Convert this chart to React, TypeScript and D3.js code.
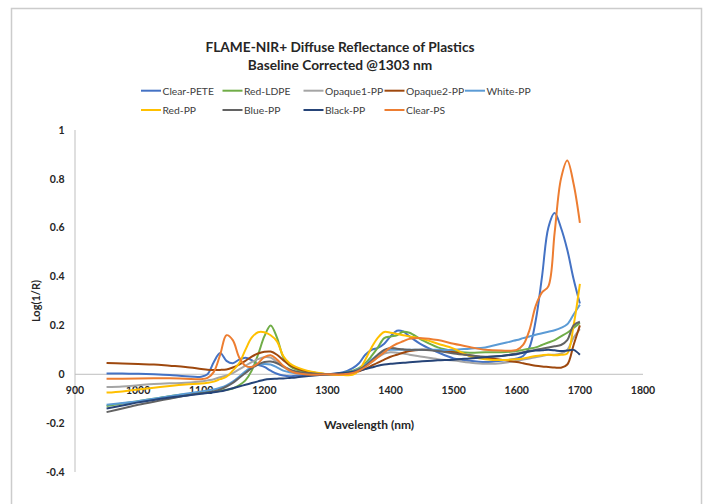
import React from "react";
import * as d3 from "d3";

const wavelengths = [950, 975, 1000, 1025, 1050, 1075, 1100, 1110, 1120, 1130, 1140, 1150, 1160, 1170, 1180, 1190, 1200, 1210, 1220, 1230, 1240, 1250, 1275, 1300, 1325, 1340, 1350, 1360, 1370, 1380, 1390, 1400, 1410, 1420, 1430, 1450, 1475, 1500, 1525, 1550, 1575, 1600, 1610, 1620, 1630, 1640, 1650, 1660, 1670, 1680, 1690, 1700];

const clearPETE = [0.003, 0.003, 0.002, 0.0, -0.003, -0.008, -0.01, 0.0, 0.05, 0.087, 0.055, 0.045, 0.06, 0.068, 0.058, 0.04, 0.03, 0.015, 0.002, -0.005, -0.008, -0.006, -0.002, 0, 0.008, 0.025, 0.045, 0.08, 0.1, 0.108, 0.125, 0.155, 0.178, 0.175, 0.155, 0.12, 0.09, 0.065, 0.055, 0.05, 0.055, 0.065, 0.075, 0.11, 0.22, 0.4, 0.6, 0.66, 0.6, 0.51, 0.39, 0.29];
const redLDPE = [-0.13, -0.12, -0.11, -0.1, -0.09, -0.082, -0.075, -0.072, -0.07, -0.067, -0.063, -0.058, -0.045, -0.025, 0.015, 0.08, 0.155, 0.2, 0.15, 0.07, 0.035, 0.02, 0.007, 0, 0.005, 0.015, 0.025, 0.045, 0.075, 0.11, 0.148, 0.155, 0.16, 0.174, 0.17, 0.14, 0.11, 0.095, 0.088, 0.09, 0.09, 0.095, 0.1, 0.105, 0.11, 0.12, 0.13, 0.14, 0.155, 0.17, 0.19, 0.21];
const opaque1PP = [-0.052, -0.05, -0.045, -0.04, -0.037, -0.035, -0.03, -0.025, -0.02, -0.012, -0.005, 0.005, 0.02, 0.035, 0.05, 0.062, 0.07, 0.068, 0.05, 0.03, 0.015, 0.008, 0.002, 0, 0.002, 0.01, 0.02, 0.035, 0.05, 0.07, 0.085, 0.09, 0.088, 0.085, 0.08, 0.072, 0.062, 0.056, 0.048, 0.043, 0.045, 0.055, 0.06, 0.065, 0.07, 0.075, 0.08, 0.08, 0.085, 0.1, 0.15, 0.185];
const opaque2PP = [0.046, 0.044, 0.042, 0.04, 0.035, 0.03, 0.022, 0.019, 0.018, 0.018, 0.02, 0.028, 0.04, 0.055, 0.072, 0.085, 0.092, 0.093, 0.08, 0.058, 0.038, 0.025, 0.008, 0, 0.0, 0.005, 0.012, 0.022, 0.035, 0.048, 0.06, 0.072, 0.08, 0.088, 0.095, 0.1, 0.098, 0.09, 0.078, 0.068, 0.06, 0.05, 0.045, 0.04, 0.035, 0.032, 0.03, 0.028, 0.027, 0.04, 0.12, 0.2];
const whitePP = [-0.125, -0.118, -0.11, -0.1, -0.09, -0.08, -0.07, -0.066, -0.062, -0.055, -0.045, -0.03, -0.01, 0.012, 0.03, 0.04, 0.042, 0.04, 0.028, 0.015, 0.008, 0.004, 0.001, 0, 0.003, 0.012, 0.022, 0.04, 0.06, 0.08, 0.095, 0.1, 0.1, 0.1, 0.1, 0.1, 0.1, 0.1, 0.105, 0.11, 0.125, 0.14, 0.148, 0.155, 0.162, 0.168, 0.174, 0.18, 0.19, 0.205, 0.245, 0.285];
const redPP = [-0.075, -0.07, -0.062, -0.055, -0.048, -0.042, -0.038, -0.035, -0.03, -0.02, -0.01, 0.015, 0.045, 0.1, 0.15, 0.172, 0.172, 0.16, 0.135, 0.075, 0.045, 0.03, 0.01, 0, -0.003, -0.002, 0.015, 0.06, 0.11, 0.15, 0.173, 0.17, 0.165, 0.16, 0.155, 0.145, 0.125, 0.105, 0.075, 0.062, 0.058, 0.062, 0.065, 0.07, 0.075, 0.078, 0.08, 0.078, 0.08, 0.085, 0.2, 0.37];
const bluePP = [-0.155, -0.14, -0.125, -0.112, -0.1, -0.088, -0.078, -0.075, -0.07, -0.062, -0.05, -0.035, -0.015, 0.005, 0.025, 0.04, 0.05, 0.052, 0.045, 0.032, 0.02, 0.012, 0.004, 0, 0.003, 0.01, 0.02, 0.035, 0.055, 0.08, 0.1, 0.108, 0.105, 0.102, 0.1, 0.1, 0.095, 0.085, 0.078, 0.072, 0.075, 0.085, 0.09, 0.095, 0.1, 0.105, 0.11, 0.115, 0.12, 0.14, 0.2, 0.215];
const blackPP = [-0.14, -0.128, -0.115, -0.105, -0.095, -0.088, -0.08, -0.077, -0.074, -0.07, -0.064, -0.057, -0.05, -0.043, -0.036, -0.029, -0.022, -0.019, -0.018, -0.017, -0.015, -0.013, -0.006, 0, 0.005, 0.01, 0.015, 0.022, 0.028, 0.035, 0.04, 0.043, 0.045, 0.047, 0.049, 0.053, 0.057, 0.06, 0.065, 0.07, 0.075, 0.082, 0.088, 0.093, 0.097, 0.098, 0.1, 0.098, 0.095, 0.097, 0.1, 0.08];
const clearPS = [-0.018, -0.018, -0.017, -0.016, -0.016, -0.018, -0.02, -0.015, 0.01, 0.08, 0.16, 0.14, 0.07, 0.035, 0.03, 0.045, 0.07, 0.078, 0.06, 0.035, 0.015, 0.005, -0.002, 0, 0.0, 0.005, 0.015, 0.03, 0.05, 0.07, 0.09, 0.11, 0.125, 0.135, 0.145, 0.148, 0.14, 0.125, 0.112, 0.1, 0.097, 0.1, 0.12, 0.18, 0.28, 0.335, 0.36, 0.58, 0.8, 0.875, 0.78, 0.62];

const seriesNames = ["Clear-PETE", "Red-LDPE", "Opaque1-PP", "Opaque2-PP", "White-PP", "Red-PP", "Blue-PP", "Black-PP", "Clear-PS"];
const seriesValues = [clearPETE, redLDPE, opaque1PP, opaque2PP, whitePP, redPP, bluePP, blackPP, clearPS];
const seriesColors = ["#4472C4", "#70AD47", "#A5A5A5", "#9E480E", "#5B9BD5", "#FFC000", "#636363", "#264478", "#ED7D31"];

const xTicks = [900, 1000, 1100, 1200, 1300, 1400, 1500, 1600, 1700, 1800];
const yTicks = [-0.4, -0.2, 0, 0.2, 0.4, 0.6, 0.8, 1];

const titleLines = ["FLAME-NIR+ Diffuse Reflectance of Plastics", "Baseline Corrected @1303 nm"];

const FONT = "Lato, 'Open Sans', sans-serif";

export default function App() {
  const x = d3.scaleLinear().domain([900, 1800]).range([75, 643]);
  const y = d3.scaleLinear().domain([-0.4, 1]).range([472, 130]);
  const line = d3
    .line<[number, number]>()
    .x((d) => x(d[0]))
    .y((d) => y(d[1]))
    .curve(d3.curveCatmullRom.alpha(0.5));

  const legendCols = [141, 222.5, 303.5, 384.5, 465];
  const legendRows = [90.7, 110];

  return (
    <svg width={706} height={504} style={{ position: "absolute", left: 0, top: 0, background: "#fff" }} fontFamily={FONT}>
      <rect x={0} y={0} width={706} height={504} fill="#fff" />
      <rect x={11.5} y={8.5} width={690} height={520} fill="none" stroke="#CCCCCC" strokeWidth={1.5} />
      {titleLines.map((t, i) => (
        <text key={t} x={340} y={51.5 + i * 18} textAnchor="middle" fontSize={13.7} fontWeight="bold" fill="#262626">
          {t}
        </text>
      ))}
      {seriesNames.map((name, i) => {
        const col = i < 5 ? i : i - 5;
        const row = i < 5 ? 0 : 1;
        const lx = legendCols[col];
        const ly = legendRows[row];
        return (
          <g key={name}>
            <line x1={lx} x2={lx + 20} y1={ly} y2={ly} stroke={seriesColors[i]} strokeWidth={2} />
            <text x={lx + 21.5} y={ly + 4} fontSize={10.3} fill="#404040">
              {name}
            </text>
          </g>
        );
      })}
      <line x1={x(900)} x2={x(900)} y1={y(1)} y2={y(-0.4)} stroke="#BFBFBF" strokeWidth={1} />
      <line x1={x(900)} x2={x(1800)} y1={y(0)} y2={y(0)} stroke="#BFBFBF" strokeWidth={1} />
      {yTicks.map((t) => (
        <text key={t} x={64.5} y={y(t) + 3.7} textAnchor="end" fontSize={10.5} fontWeight="bold" fill="#262626">
          {t === 0 || t === 1 ? String(t) : t.toFixed(1)}
        </text>
      ))}
      {xTicks.map((t) => (
        <text key={t} x={x(t)} y={394} textAnchor="middle" fontSize={10.5} fontWeight="bold" fill="#262626">
          {t}
        </text>
      ))}
      {seriesValues.map((vals, i) => (
        <path
          key={seriesNames[i]}
          d={line(wavelengths.map((w, j) => [w, vals[j]] as [number, number])) || ""}
          fill="none"
          stroke={seriesColors[i]}
          strokeWidth={2}
          strokeLinejoin="round"
        />
      ))}
      <text x={369} y={428.5} textAnchor="middle" fontSize={12} fontWeight="bold" fill="#262626">
        Wavelength (nm)
      </text>
      <text
        transform={`translate(40,301) rotate(-90)`}
        textAnchor="middle"
        fontSize={11}
        fontWeight="bold"
        fill="#262626"
      >
        Log(1/R)
      </text>
    </svg>
  );
}
